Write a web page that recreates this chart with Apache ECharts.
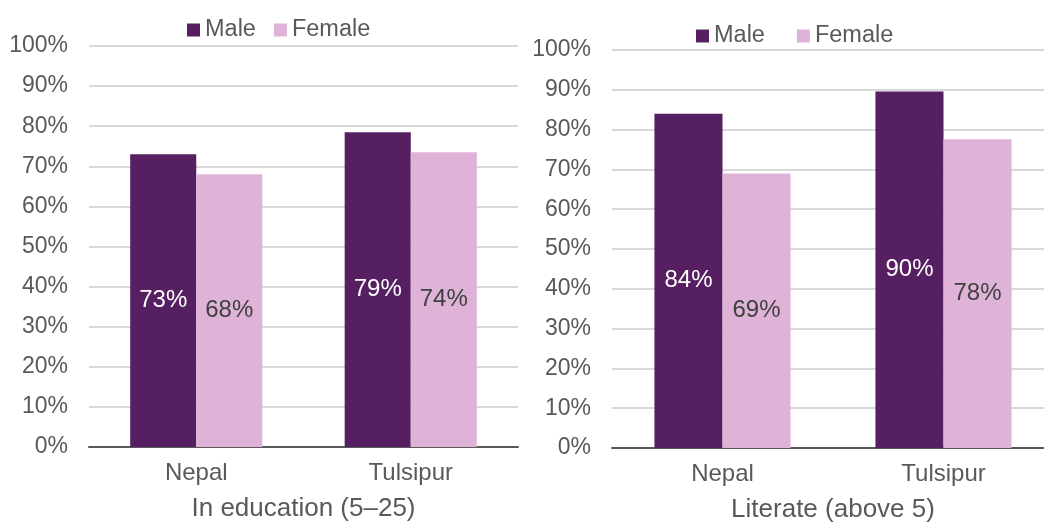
<!DOCTYPE html>
<html>
<head>
<meta charset="utf-8">
<script src="https://cdn.jsdelivr.net/npm/echarts@6/dist/echarts.min.js"></script>
<style>
  html, body { margin: 0; padding: 0; background: #fff; }
  #chart { width: 1044px; height: 525px; }
</style>
</head>
<body>
<div id="chart"></div>
<script>
// data
const categories = ["Nepal", "Tulsipur"];
const seriesNames = ["Male", "Female"];
const educationMale = [73, 78.5];
const educationFemale = [68, 73.5];
const literateMale = [84, 89.6];
const literateFemale = [69, 77.6];
const panelTitles = ["In education (5\u201325)", "Literate (above 5)"];
const yTicks = [0, 10, 20, 30, 40, 50, 60, 70, 80, 90, 100];

const MALE = "#561f62";
const FEMALE = "#deb3d7";
const TEXT = "#595959";
const FONT = "Liberation Sans, Arial, sans-serif";

const chart = echarts.init(document.getElementById("chart"));

const makeX = (gridIndex, name) => ({
  type: "category",
  gridIndex,
  data: categories,
  axisLine: { lineStyle: { color: "#595959", width: 2 } },
  axisTick: { show: false },
  axisLabel: { color: TEXT, fontSize: 24, fontFamily: FONT, margin: 14 },
  name,
  nameLocation: "middle",
  nameGap: 49,
  nameTextStyle: { color: TEXT, fontSize: 26, fontFamily: FONT },
});

const makeY = (gridIndex) => ({
  type: "value",
  gridIndex,
  min: yTicks[0],
  max: yTicks[yTicks.length - 1],
  interval: 10,
  axisLine: { show: false },
  axisTick: { show: false },
  splitLine: { lineStyle: { color: "#d9d9d9", width: 2 } },
  axisLabel: {
    color: TEXT,
    fontSize: 23,
    fontFamily: FONT,
    margin: 21,
    formatter: "{value}%",
  },
});

const makeBar = (name, color, labelColor, data, idx) => ({
  name,
  type: "bar",
  xAxisIndex: idx,
  yAxisIndex: idx,
  data,
  barWidth: "30.8%",
  barGap: "0%",
  itemStyle: { color },
  label: {
    show: true,
    position: "inside",
    color: labelColor,
    fontSize: 24,
    fontFamily: FONT,
    formatter: (p) => Math.round(p.value) + "%",
  },
});

const legendBase = {
  data: seriesNames,
  itemWidth: 13,
  itemHeight: 13,
  icon: "rect",
  textStyle: { color: TEXT, fontSize: 23.5, fontFamily: FONT },
};

chart.setOption({
  animation: false,
  textStyle: { fontFamily: FONT },
  legend: [
    Object.assign({}, legendBase, { left: 182, top: 13, itemGap: 18 }),
    Object.assign({}, legendBase, { left: 691, top: 19, itemGap: 32 }),
  ],
  // the right panel runs past the canvas edge, as in the reference
  grid: [
    { left: 89, width: 429, top: 46, bottom: 78, outerBoundsMode: "none" },
    { left: 612, width: 442, top: 50, bottom: 77, outerBoundsMode: "none" },
  ],
  xAxis: [makeX(0, panelTitles[0]), makeX(1, panelTitles[1])],
  yAxis: [makeY(0), makeY(1)],
  series: [
    makeBar(seriesNames[0], MALE, "#ffffff", educationMale, 0),
    makeBar(seriesNames[1], FEMALE, "#404040", educationFemale, 0),
    makeBar(seriesNames[0], MALE, "#ffffff", literateMale, 1),
    makeBar(seriesNames[1], FEMALE, "#404040", literateFemale, 1),
  ],
});

window.addEventListener("resize", () => chart.resize());
</script>
</body>
</html>
